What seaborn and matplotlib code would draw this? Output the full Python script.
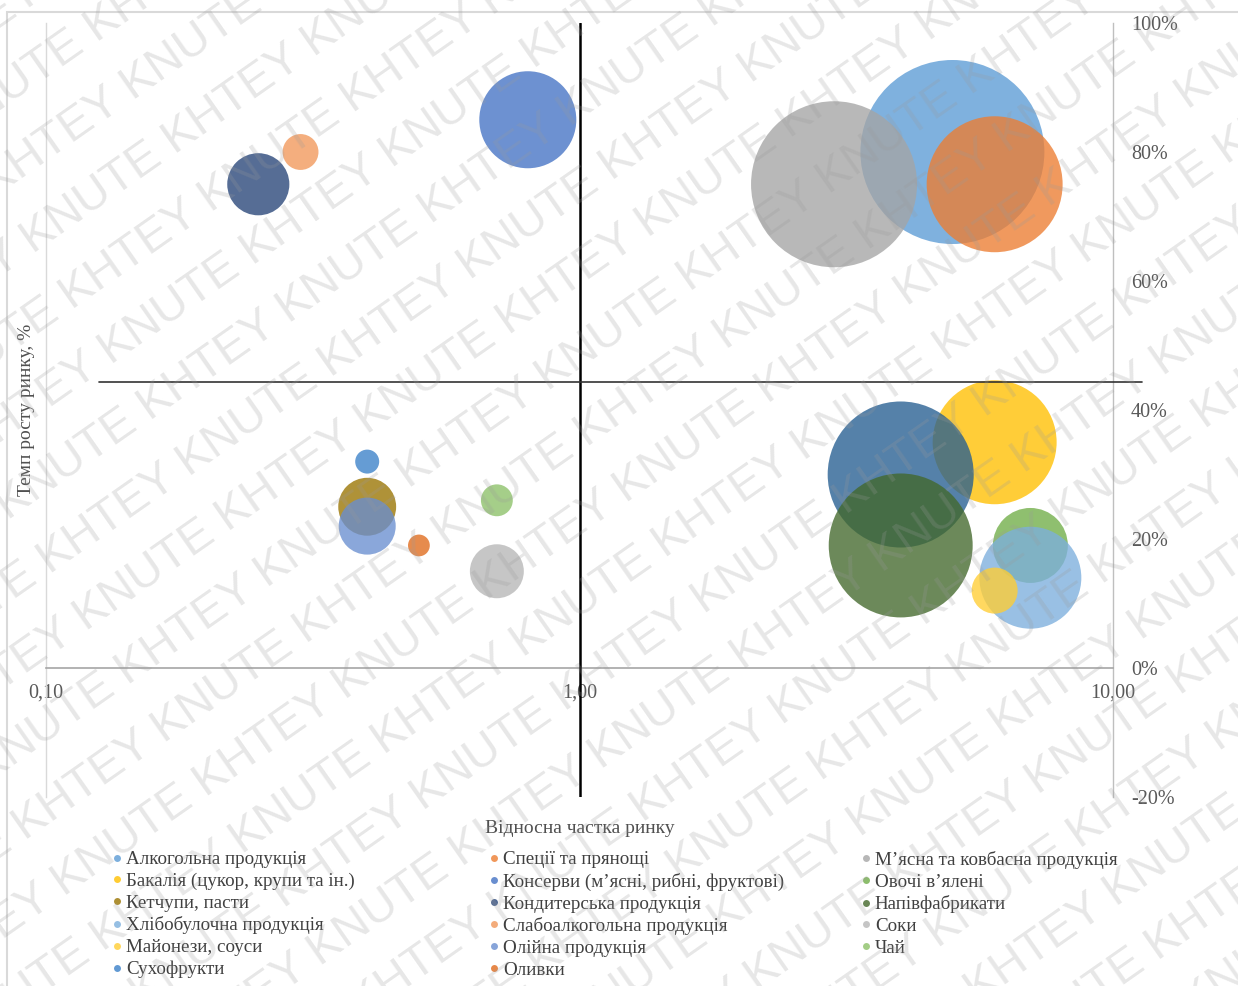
import numpy as np
import pandas as pd
import matplotlib
matplotlib.use("Agg")
import matplotlib.pyplot as plt
from matplotlib.lines import Line2D
from matplotlib.patches import Rectangle
from matplotlib.ticker import NullLocator
import seaborn as sns

# ---- data (series in drawing order) ----
products = [
    "Алкогольна продукція",
    "Спеції та прянощі",
    "М’ясна та ковбасна продукція",
    "Бакалія (цукор, крупи та ін.)",
    "Консерви (м’ясні, рибні, фруктові)",
    "Овочі в’ялені",
    "",
    "Кетчупи, пасти",
    "Кондитерська продукція",
    "Напівфабрикати",
    "Хлібобулочна продукція",
    "Слабоалкогольна продукція",
    "Соки",
    "Майонези, соуси",
    "Олійна продукція",
    "Чай",
    "Сухофрукти",
    "Оливки",
]
rel_share = [5.0, 6.0, 3.0, 6.0, 0.8, 7.0, 4.0, 0.4, 0.25, 4.0, 7.0, 0.3, 0.7, 6.0, 0.4, 0.7, 0.4, 0.5]
growth = [80, 75, 75, 35, 85, 19, 30, 25, 75, 19, 14, 80, 15, 12, 22, 26, 32, 19]
volume = [100, 54.6, 81.4, 45.4, 27.8, 16.6, 63.0, 9.9, 11.4, 61.2, 30.7, 3.8, 8.6, 6.25, 9.6, 3.0, 1.7, 1.4]
colors = [
    "#5B9BD5", "#ED7D31", "#A5A5A5", "#FFC000", "#4472C4", "#70AD47",
    "#255E91", "#997300", "#264478", "#43682B", "#7CAFDD", "#F1975A",
    "#B7B7B7", "#FFCD33", "#698ED0", "#8CC168", "#3A80C8", "#E06A1B",
]

xtick_values = [0.1, 1.0, 10.0]
xtick_labels = ["0,10", "1,00", "10,00"]
ytick_values = [-20, 0, 20, 40, 60, 80, 100]
ytick_labels = ["-20%", "0%", "20%", "40%", "60%", "80%", "100%"]

share_threshold = 1.0
growth_threshold = 44.3

x_title = "Відносна частка ринку"
y_title = "Темп росту ринку, %"
watermark_words = ["KNUTE", "KHTEY"]

# ---- figure ----
W, H = 1238, 986
sns.set_theme(style="white")
plt.rcParams["font.family"] = ["Liberation Serif", "DejaVu Serif"]

fig = plt.figure(figsize=(W / 100, H / 100), dpi=100)
fig.patch.set_facecolor("white")
ax = fig.add_axes([46 / W, (H - 797) / H, (1113 - 46) / W, (797 - 23) / H])
ax.set_facecolor("white")

df = pd.DataFrame({"product": products, "share": rel_share,
                   "growth": growth, "volume": volume})
palette = dict(zip(products, colors))

max_marker_area = (2 * 92 * 0.72) ** 2
sns.scatterplot(data=df, x="share", y="growth", hue="product", hue_order=products,
                palette=palette, size="volume", sizes=(0, max_marker_area),
                size_norm=(0, 100), alpha=0.78, linewidth=0, edgecolor="none",
                legend=False, ax=ax, zorder=2)

ax.set_xscale("log")
ax.set_xlim(0.1, 10)
ax.set_ylim(-20, 100)
ax.set_xticks(xtick_values)
ax.set_xticklabels(xtick_labels)
ax.xaxis.set_minor_locator(NullLocator())
ax.set_yticks(ytick_values)
ax.set_yticklabels(ytick_labels)
ax.yaxis.tick_right()
ax.tick_params(axis="both", length=0, labelsize=14.5, labelcolor="#595959")
ax.tick_params(axis="x", pad=11)
ax.tick_params(axis="y", pad=13)
ax.grid(False)

ax.spines["top"].set_visible(False)
ax.spines["left"].set_color("#D9D9D9")
ax.spines["left"].set_linewidth(1.0)
ax.spines["right"].set_color("#BFBFBF")
ax.spines["right"].set_linewidth(1.0)
ax.spines["bottom"].set_position(("data", 0))
ax.spines["bottom"].set_color("#A6A6A6")
ax.spines["bottom"].set_linewidth(1.2)

# quadrant dividers
ax.axvline(share_threshold, color="black", lw=1.8, zorder=3)
ax.axhline(growth_threshold, xmin=0.05, xmax=1.027, color="#333333", lw=1.2,
           zorder=3, clip_on=False)

ax.set_xlabel(x_title, fontsize=14, color="#505050")
ax.xaxis.set_label_coords(0.5, -0.030)
ax.set_ylabel(y_title, fontsize=14, color="#505050")
ax.yaxis.set_label_coords(-0.010, 0.5)

# legend: three columns, filled row by row
named = [(p, c) for p, c in zip(products, colors) if p]
col_left = [112.5 / W, 489.5 / W, 861.5 / W]
for j in range(3):
    items = named[j::3]
    handles = [Line2D([], [], marker="o", linestyle="", markersize=5,
                      markerfacecolor=c, markeredgecolor="none", alpha=0.8)
               for _, c in items]
    fig.legend(handles, [p for p, _ in items], loc="upper left",
               bbox_to_anchor=(col_left[j], 1 - 851 / H), frameon=False,
               fontsize=13.7, labelcolor="#404040", handlelength=0.5,
               handletextpad=0.2, borderpad=0, borderaxespad=0,
               labelspacing=0.235)

# outer chart frame
fig.add_artist(Rectangle((7 / W, -0.1), 1.2, 1 - 12 / H + 0.1,
                         transform=fig.transFigure, fill=False,
                         edgecolor="#D9D9D9", lw=1.5))

# diagonal watermark
angle = 35
theta = np.deg2rad(angle)
normal = np.array([-np.sin(theta), np.cos(theta)])
centre = np.array([W / 2, H / 2])
spacing = 68
for k in range(-15, 16):
    pos = centre + k * spacing * normal
    a, b = watermark_words if k % 2 == 0 else watermark_words[::-1]
    line = (a + " " + b + " ") * 10
    fig.text(pos[0] / W, pos[1] / H, line, rotation=angle, rotation_mode="anchor",
             ha="center", va="center", fontsize=34, color="#9A9A9A", alpha=0.24,
             family="Liberation Sans", zorder=10)

fig.savefig("out.png", dpi=100)
